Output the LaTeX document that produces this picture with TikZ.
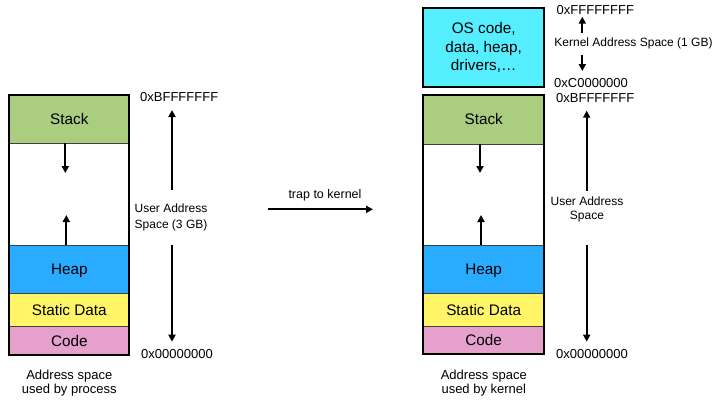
\documentclass[tikz,border=0pt]{standalone}
\usepackage{fontspec}
\setmainfont{Liberation Sans}
\usetikzlibrary{arrows.meta}
\definecolor{stackc}{RGB}{171,205,127}
\definecolor{heapc}{RGB}{41,171,255}
\definecolor{staticc}{RGB}{255,245,102}
\definecolor{codec}{RGB}{229,160,204}
\definecolor{kernc}{RGB}{85,238,255}
\begin{document}
\begin{tikzpicture}[x=1pt,y=-1pt,
  seg/.style={draw=black!75, line width=0.9pt, minimum width=120pt, inner sep=0pt, outer sep=0pt,
    anchor=north, text height=10.9pt, text depth=0pt, font=\fontsize{15.3}{18}\selectfont},
  gapbox/.style={minimum width=120pt, inner sep=0pt, outer sep=0pt, anchor=north},
  kbox/.style={draw=black, line width=2pt, fill=kernc, minimum width=120.7pt, inner sep=0pt, outer sep=0pt,
    anchor=north, align=center, font=\fontsize{15.3}{18.8}\selectfont},
  frame/.style={draw=black, line width=2.1pt},
  arr/.style={line width=2pt, -{Triangle[length=7pt,width=7pt]}},
  addr/.style={anchor=west, inner sep=0pt, font=\fontsize{13}{15}\selectfont},
  lbl/.style={inner sep=0pt, align=center, font=\fontsize{12}{16}\selectfont},
  captxt/.style={inner sep=0pt, align=center, font=\fontsize{13}{14.3}\selectfont}]
\useasboundingbox (0,0) rectangle (718,407);

% ---------- left column (process) ----------
\node[seg, fill=stackc, minimum height=48.6pt] (stackL) at (69.3,94.7) {Stack};
\node[gapbox, minimum height=101.7pt] (gapL) at (stackL.south) {};
\node[seg, fill=heapc, minimum height=48.3pt] (heapL) at (gapL.south) {Heap};
\node[seg, fill=staticc, minimum height=33.4pt] (staticL) at (heapL.south) {Static Data};
\node[seg, fill=codec, minimum height=28.3pt] (codeL) at (staticL.south) {Code};
\draw[frame] (stackL.north west) rectangle (codeL.south east);

\coordinate (sdL) at (65.3,173);
\coordinate (huL) at (66.3,215);
\draw[arr] (stackL.south -| sdL) -- (sdL);
\draw[arr] (heapL.north -| huL) -- (huL);

\node[addr] (hiL) at (140,97) {0xBFFFFFFF};
\node[addr] (loL) at (141,354) {0x00000000};
\node[lbl] (userL) at (171,217) {User Address\\Space (3 GB)};
\coordinate (uTopL) at (172,110);
\coordinate (uBotL) at (172,341.7);
\draw[arr] ([yshift=12.8pt]userL.north -| uTopL) -- (uTopL);
\draw[arr] ([yshift=-14.5pt]userL.south -| uBotL) -- (uBotL);

\node[captxt] (capL) at (69.3,383) {Address space\\used by process};

% ---------- trap arrow ----------
\coordinate (trapS) at (268,209.3);
\coordinate (trapE) at (373,209.3);
\draw[arr] (trapS) -- (trapE);
\node[lbl, font=\fontsize{12.5}{15}\selectfont] (trapT) at (325,195) {trap to kernel};

% ---------- right column (kernel) ----------
\node[kbox, minimum height=78.4pt] (kern) at (483.7,8.3) {OS code,\\data, heap,\\drivers,…};

\node[seg, minimum width=120.7pt, fill=stackc, minimum height=49pt] (stackR) at (483.7,95) {Stack};
\node[gapbox, minimum width=120.7pt, minimum height=101pt] (gapR) at (stackR.south) {};
\node[seg, minimum width=120.7pt, fill=heapc, minimum height=48.3pt] (heapR) at (gapR.south) {Heap};
\node[seg, minimum width=120.7pt, fill=staticc, minimum height=33.4pt] (staticR) at (heapR.south) {Static Data};
\node[seg, minimum width=120.7pt, fill=codec, minimum height=27.6pt] (codeR) at (staticR.south) {Code};
\draw[frame] (stackR.north west) rectangle (codeR.south east);

\coordinate (sdR) at (480,173);
\coordinate (huR) at (481,215);
\draw[arr] (stackR.south -| sdR) -- (sdR);
\draw[arr] (heapR.north -| huR) -- (huR);

\node[addr] (ffR) at (556.5,10) {0xFFFFFFFF};
\node[addr] (c0R) at (554,82.7) {0xC0000000};
\node[addr] (hiR) at (556,98.3) {0xBFFFFFFF};
\node[addr] (loR) at (556,354) {0x00000000};

\node[lbl] (kernL) at (633.5,43) {Kernel Address Space (1 GB)};
\coordinate (kTop) at (582.3,16.7);
\coordinate (kBot) at (582.3,71);
\draw[arr] ([yshift=4.2pt]kernL.north -| kTop) -- (kTop);
\draw[arr] ([yshift=-6.2pt]kernL.south -| kBot) -- (kBot);

\node[lbl, font=\fontsize{12}{13.7}\selectfont] (userR) at (587,209.5) {User Address\\Space};
\coordinate (uTopR) at (586.7,110.7);
\coordinate (uBotR) at (586.7,341.7);
\draw[arr] ([yshift=6pt]userR.north -| uTopR) -- (uTopR);
\draw[arr] ([yshift=-22.5pt]userR.south -| uBotR) -- (uBotR);

\node[captxt] (capR) at (483.8,383) {Address space\\used by kernel};
\end{tikzpicture}
\end{document}
